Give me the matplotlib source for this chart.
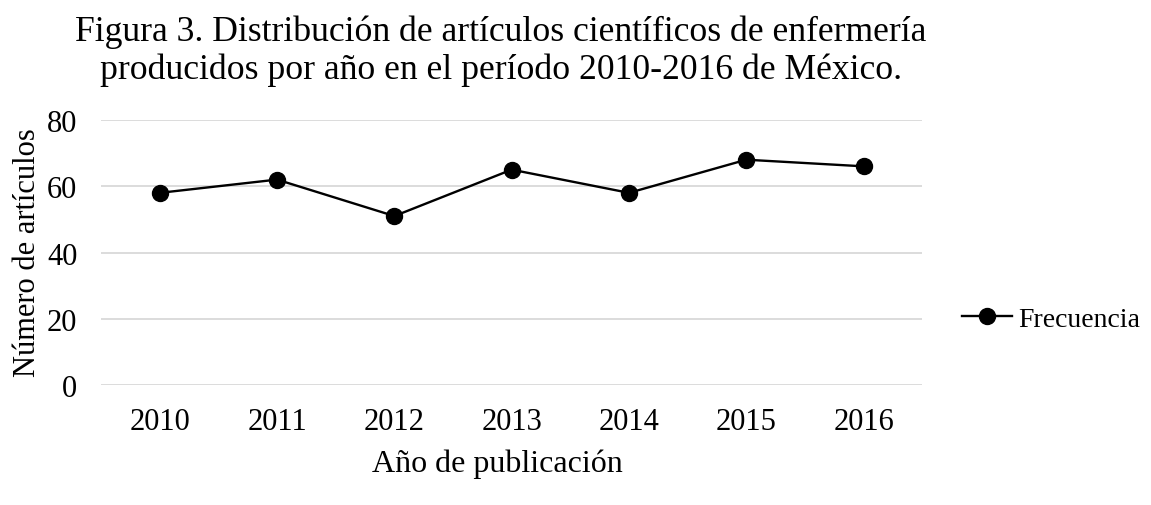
import matplotlib
matplotlib.use("Agg")
import matplotlib.pyplot as plt

years = ["2010", "2011", "2012", "2013", "2014", "2015", "2016"]
frecuencia = [58, 62, 51, 65, 58, 68, 66]
yticks = [0, 20, 40, 60, 80]

plt.rcParams['font.family'] = ['Liberation Serif', 'DejaVu Serif']

fig = plt.figure(figsize=(11.51, 5.06), dpi=100)
ax = fig.add_axes([0.0878, 0.237, 0.7135, 0.524])
x = list(range(len(years)))
ax.plot(x, frecuencia, color='black', lw=1.7, marker='o', markersize=11.5, label='Frecuencia')
ax.set_xlim(-0.5, len(years) - 0.5)
ax.set_ylim(0, 80)
ax.set_yticks(yticks)
ax.set_xticks(x)
ax.set_xticklabels(years)
ax.grid(axis='y', color='#d9d9d9', lw=1.3)
ax.set_axisbelow(True)
for s in ax.spines.values():
    s.set_visible(False)
ax.tick_params(length=0, labelsize=22, colors='black')
ax.tick_params(axis='x', pad=16)
ax.tick_params(axis='y', pad=17)

fig.text(0.435, 0.899, "Figura 3. Distribución de artículos científicos de enfermería\nproducidos por año en el período 2010-2016 de México.",
         ha='center', va='center', fontsize=25.7, linespacing=1.17)
fig.text(0.024, 0.5, "Número de artículos", rotation=90, ha='center', va='center', fontsize=22)
fig.text(0.432, 0.082, "Año de publicación", ha='center', va='center', fontsize=23)

fig.legend(loc='center left', bbox_to_anchor=(0.836, 0.368), frameon=False, fontsize=20,
           handlelength=1.8, handletextpad=0.2, borderaxespad=0, borderpad=0)

fig.savefig("out.png", dpi=100)
